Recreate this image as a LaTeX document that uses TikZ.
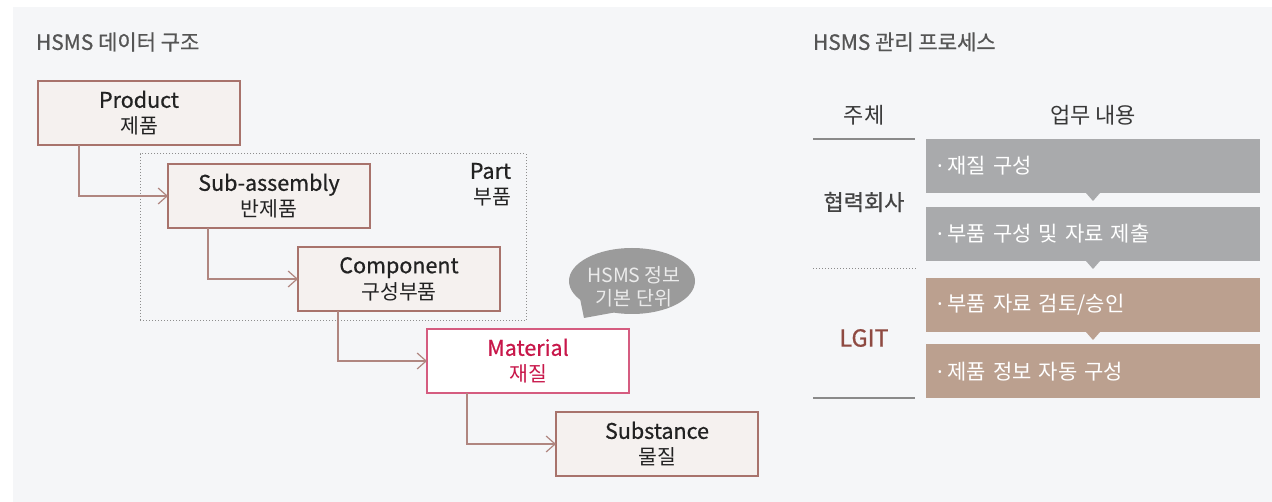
\documentclass[tikz,border=0pt]{standalone}
\usepackage{fontspec}
\setmainfont{Noto Sans CJK KR}
\newfontfamily\medf[FakeBold=0.7]{Noto Sans CJK KR}
\newfontfamily\taskf[WordSpace=0.75]{Noto Sans CJK KR}
\newfontfamily\latinf{Noto Sans}
\usetikzlibrary{arrows.meta,shapes.geometric}
\definecolor{bg}{HTML}{F5F6F8}
\definecolor{boxfill}{HTML}{F5F1EF}
\definecolor{boxdraw}{HTML}{A8736C}
\definecolor{conn}{HTML}{B08680}
\definecolor{matred}{HTML}{C8174A}
\definecolor{matdraw}{HTML}{D55C80}
\definecolor{dotgrey}{HTML}{8E8E8E}
\definecolor{titlegrey}{HTML}{555555}
\definecolor{txt}{HTML}{222222}
\definecolor{bubblec}{HTML}{9B9B9B}
\definecolor{greybox}{HTML}{A9AAAC}
\definecolor{brownbox}{HTML}{BBA08F}
\definecolor{lgit}{HTML}{8F4A42}
\definecolor{rulec}{HTML}{8A8A8A}
\newcommand{\lat}[1]{{\fontsize{21.5}{26}\selectfont\medf #1}}
\newcommand{\bul}{{\latinf ·}\hspace*{5pt}}
\begin{document}
\begin{tikzpicture}[x=1pt,y=-1pt,
  every node/.style={inner sep=0pt, outer sep=0pt},
  lvl/.style={draw=boxdraw, fill=boxfill, line width=1.2pt, minimum width=202pt, minimum height=64pt,
    align=center, text=txt, font=\fontsize{20.5}{26}\selectfont},
  matbox/.style={lvl, draw=matdraw, fill=white, text=matred},
  link/.style={draw=conn, line width=1.3pt, -{Straight Barb[length=9pt,width=16pt,line width=1.2pt]}},
  ttl/.style={anchor=west, text=titlegrey, font=\fontsize{21}{24}\selectfont\medf},
  task/.style={minimum width=334pt, minimum height=54pt, text width=312pt, inner xsep=11pt,
    align=left, text=white, font=\fontsize{21}{24}\selectfont\taskf},
  hdr/.style={text=txt!90, font=\fontsize{22}{24}\selectfont},
]
\useasboundingbox (0,0) rectangle (1272,502);
\fill[bg] (13,7) rectangle (1272,502);

% ---------- left: data structure ----------
\node[ttl] (t1) at (36,42) {HSMS 데이터 구조};

\node[draw=dotgrey, dotted, line width=1pt, minimum width=386pt, minimum height=167pt] (partbox) at (333,237.5) {};
\node[anchor=north east, align=right, text=txt, font=\fontsize{20.5}{26}\selectfont] (partlbl)
  at ([xshift=-15pt,yshift=-9pt]partbox.north east) {\lat{Part}\\부품};

\node[lvl] (prod) at (139,113) {\lat{Product}\\제품};
\node[lvl] (sub) at (269,196) {\lat{Sub-assembly}\\반제품};
\node[lvl] (comp) at (399,279) {\lat{Component}\\구성부품};
\node[matbox] (mat) at (528,361) {\lat{Material}\\재질};
\node[lvl] (subst) at (657,444) {\lat{Substance}\\물질};

\draw[link] ([xshift=41pt]prod.south west) |- (sub.west);
\draw[link] ([xshift=40pt]sub.south west) |- (comp.west);
\draw[link] ([xshift=40pt]comp.south west) |- (mat.west);
\draw[link] ([xshift=40pt]mat.south west) |- (subst.west);

% speech bubble
\node[ellipse, fill=bubblec, minimum width=126pt, minimum height=66pt] (bub) at (632,281) {};
\coordinate (tailtip) at (584,318);
\fill[bubblec] (bub.200) -- (tailtip) -- (bub.240) -- cycle;
\node[align=center, text=white!92!black, font=\fontsize{19.5}{23}\selectfont] (bubtxt) at (634,287) {HSMS 정보\\기본 단위};

% ---------- right: management process ----------
\node[ttl] (t2) at (813,42) {HSMS 관리 프로세스};

\node[hdr] (h1) at (864,115) {주체};
\node[hdr] (h2) at (1093,115) {업무 내용};

\coordinate (r1a) at (813,139); \coordinate (r1b) at (915,139);
\coordinate (r2a) at (813,269); \coordinate (r2b) at (916,269);
\coordinate (r3a) at (813,398); \coordinate (r3b) at (915,398);
\draw[rulec, line width=1.2pt] (r1a) -- (r1b);
\draw[rulec, dotted, line width=1pt] (r2a) -- (r2b);
\draw[rulec, line width=1.2pt] (r3a) -- (r3b);

\node[task, fill=greybox] (b1) at (1093,166) {\bul 재질 구성};
\node[task, fill=greybox] (b2) at (1093,234) {\bul 부품 구성 및 자료 제출};
\node[task, fill=brownbox] (b3) at (1093,305) {\bul 부품 자료 검토/승인};
\node[task, fill=brownbox] (b4) at (1093,371.5) {\bul 제품 정보 자동 구성};

\fill[greybox] ([xshift=-7pt]b1.south) -- ([xshift=7pt]b1.south) -- ([yshift=-8pt]b1.south) -- cycle;
\fill[greybox] ([xshift=-7pt]b2.south) -- ([xshift=7pt]b2.south) -- ([yshift=-8pt]b2.south) -- cycle;
\fill[brownbox] ([xshift=-7pt]b3.south) -- ([xshift=7pt]b3.south) -- ([yshift=-8pt]b3.south) -- cycle;

\node[text=txt!85, font=\fontsize{22}{24}\selectfont\medf] (who1) at (864,202) {협력회사};
\node[text=lgit, font=\fontsize{23.5}{24}\selectfont\medf] (who2) at (864,338) {LGIT};
\end{tikzpicture}
\end{document}
